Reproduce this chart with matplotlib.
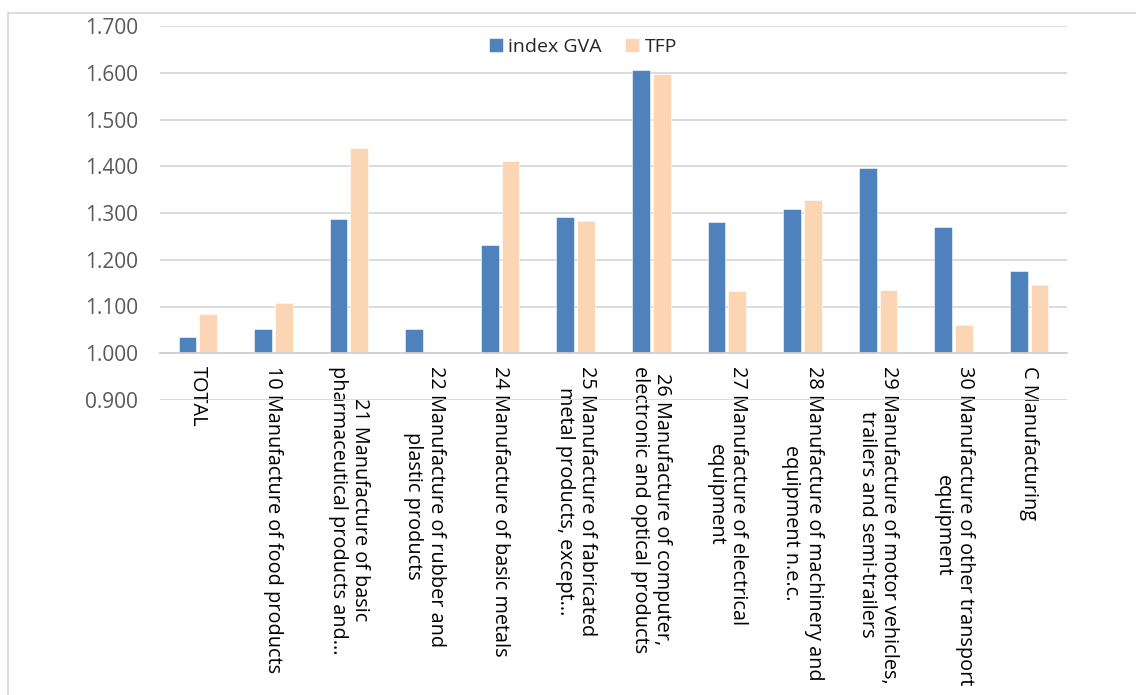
import numpy as np
import matplotlib.pyplot as plt
from matplotlib.patches import Rectangle

plt.rcParams['font.family'] = ['Open Sans', 'DejaVu Sans']

# categories (wrapped as in the worksheet)
categories = [
    "TOTAL",
    "10 Manufacture of food products",
    "21 Manufacture of basic\npharmaceutical products and...",
    "22 Manufacture of rubber and\nplastic products",
    "24 Manufacture of basic metals",
    "25 Manufacture of fabricated\nmetal products, except...",
    "26 Manufacture of computer,\nelectronic and optical products",
    "27 Manufacture of electrical\nequipment",
    "28 Manufacture of machinery and\nequipment n.e.c.",
    "29 Manufacture of motor vehicles,\ntrailers and semi-trailers",
    "30 Manufacture of other transport\nequipment",
    "C Manufacturing",
]
index_gva = [1.035, 1.052, 1.288, 1.051, 1.232, 1.291, 1.605, 1.280, 1.308, 1.396, 1.269, 1.177]
tfp = [1.083, 1.108, 1.440, np.nan, 1.412, 1.283, 1.598, 1.133, 1.328, 1.136, 1.060, 1.146]
y_ticks = [0.9, 1.0, 1.1, 1.2, 1.3, 1.4, 1.5, 1.6, 1.7]

BLUE = '#4F81BD'
PEACH = '#FCD5B5'
GRID = '#d9d9d9'
BASE = 1.0

fig = plt.figure(figsize=(11.36, 6.95), dpi=100)
ax = fig.add_axes([160 / 1136, 1 - 400 / 695, (1067 - 160) / 1136, (400 - 26) / 695])

# thin chart-area border
fig.patches.append(Rectangle((8 / 1136, -0.1), 1.2, 1 - 13 / 695 + 0.1,
                             transform=fig.transFigure, fill=False,
                             edgecolor=GRID, linewidth=1.3, zorder=0))

x = np.arange(len(categories))
w = 0.235
off = 0.137
gva_h = np.array(index_gva) - BASE
tfp_h = np.array(tfp) - BASE
ax.bar(x - off, gva_h, w, bottom=BASE, color=BLUE, edgecolor='white',
       linewidth=0.4, label='index GVA', zorder=3)
ax.bar(x + off, tfp_h, w, bottom=BASE, color=PEACH, edgecolor='white',
       linewidth=0.4, label='TFP', zorder=3)

ax.set_xlim(-0.5, len(categories) - 0.5)
ax.set_ylim(0.9, 1.7)
ax.set_yticks(y_ticks)
ax.set_yticklabels([f"{v:.3f}" for v in y_ticks])
ax.yaxis.grid(True, color=GRID, linewidth=1.3, zorder=0)
ax.set_axisbelow(True)

for s in ['top', 'right', 'left']:
    ax.spines[s].set_visible(False)
# category axis crosses at 1.000
ax.spines['bottom'].set_position(('data', BASE))
ax.spines['bottom'].set_color('#d0d0d0')
ax.spines['bottom'].set_linewidth(1.3)
ax.spines['bottom'].set_zorder(4)

ax.set_xticks(x)
ax.set_xticklabels(categories, rotation=270, ha='center', va='top',
                   multialignment='center', fontsize=14.3, color='black',
                   linespacing=1.15)
ax.tick_params(axis='x', length=0, pad=9)
ax.tick_params(axis='y', length=0, pad=16, labelsize=15, labelcolor='#595959')

fig.legend(loc='center', bbox_to_anchor=(583 / 1136, 1 - 47 / 695), ncol=2,
           frameon=False, fontsize=14, handlelength=0.7, handleheight=0.7,
           handletextpad=0.3, columnspacing=1.2, labelcolor='#262626')

fig.savefig('out.png', dpi=100, facecolor='white')
